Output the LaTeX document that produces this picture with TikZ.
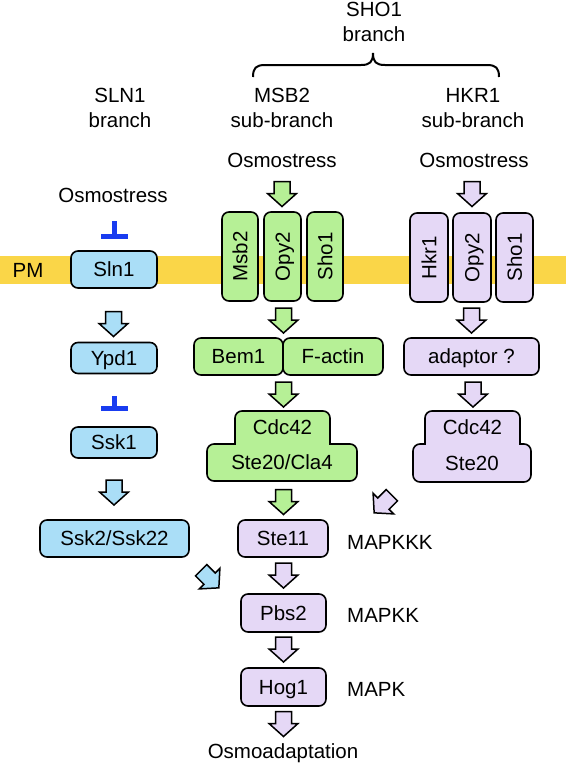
\documentclass[tikz,border=0pt]{standalone}
\usepackage{fontspec}
\setmainfont{Liberation Sans}
\usetikzlibrary{calc,arrows.meta}
\definecolor{bluefill}{RGB}{170,222,247}
\definecolor{greenfill}{RGB}{182,240,150}
\definecolor{purplefill}{RGB}{229,216,246}
\definecolor{pmband}{RGB}{250,214,72}
\definecolor{inhib}{RGB}{25,60,240}
\tikzset{
  lbl/.style={font=\fontsize{20.5}{25}\selectfont, inner sep=0pt, align=center},
  box/.style={draw=black, line width=1.6pt, rounded corners=7pt,
    font=\fontsize{20.5}{25}\selectfont, inner sep=0pt, text height=14.7pt, text depth=0pt},
  bbox/.style={box, fill=bluefill},
  gbox/.style={box, fill=greenfill},
  pbox/.style={box, fill=purplefill},
  fat/.style={draw=black, line width=1.5pt, line join=miter},
  inhibit/.style={draw=inhib, line width=5pt, -{Bar[width=27pt]}},
}
% point of a block arrow: centre (#1,#2), unit direction (#3,#4), across #5, along #6
\newcommand\ap[6]{({#1+(#6)*(#3)-(#5)*(#4)},{#2+(#6)*(#4)+(#5)*(#3)})}
\newcommand\fatarr[5]{\draw[fat, fill=#1]
  \ap{#2}{#3}{#4}{#5}{-8}{-12.5} -- \ap{#2}{#3}{#4}{#5}{8}{-12.5} --
  \ap{#2}{#3}{#4}{#5}{8}{-0.5} -- \ap{#2}{#3}{#4}{#5}{14.5}{-0.5} --
  \ap{#2}{#3}{#4}{#5}{0}{12.5} -- \ap{#2}{#3}{#4}{#5}{-14.5}{-0.5} --
  \ap{#2}{#3}{#4}{#5}{-8}{-0.5} -- cycle;}
\begin{document}
\begin{tikzpicture}[x=1pt,y=-1pt]
\useasboundingbox (0,0) rectangle (566,764);
% plasma membrane
\fill[pmband] (0,256) rectangle (566,284);
\node[lbl, anchor=base] (pm) at (28,277) {PM};
% headings
\node[lbl, anchor=base] (sho1lbl) at (374,41) {SHO1\\branch};
\draw[line width=2pt] (253,77) .. controls (253,68) and (256,65) .. (265,65) -- (361,65)
  .. controls (370,65) and (373,62) .. (373,53) .. controls (373,62) and (376,65) .. (385,65)
  -- (487,65) .. controls (496,65) and (499,68) .. (499,77);
\node[lbl, anchor=base] (sln1lbl) at (120,127) {SLN1\\branch};
\node[lbl, anchor=base] (msb2lbl) at (282,127) {MSB2\\sub-branch};
\node[lbl, anchor=base] (hkr1lbl) at (473,127) {HKR1\\sub-branch};
\node[lbl, anchor=base] (osmog) at (282,167) {Osmostress};
\node[lbl, anchor=base] (osmop) at (474,167) {Osmostress};
\node[lbl, anchor=base] (osmob) at (113,202) {Osmostress};
% SLN1 branch
\node[bbox, minimum width=86pt, minimum height=37pt] (sln1) at (114,269.5) {Sln1};
\node[bbox, minimum width=86pt, minimum height=31pt] (ypd1) at (114,358) {Ypd1};
\node[bbox, minimum width=86pt, minimum height=31pt] (ssk1) at (114,442.5) {Ssk1};
\node[bbox, minimum width=149pt, minimum height=37pt] (ssk2) at (114.5,538.5) {Ssk2/Ssk22};
\draw[inhibit] ($(sln1.north)+(0,-29)$) -- ($(sln1.north)+(0,-11)$);
\draw[inhibit] ($(ssk1.north)+(0,-30)$) -- ($(ssk1.north)+(0,-15)$);
\fatarr{bluefill}{113.5}{324}{0}{1}
\fatarr{bluefill}{114}{492.5}{0}{1}
\fatarr{bluefill}{210}{579}{0.7071}{0.7071}
% MSB2 sub-branch
\node[gbox, rotate=90, minimum width=89pt, minimum height=36pt] (msb2) at (240,256.5) {Msb2};
\node[gbox, rotate=90, minimum width=89pt, minimum height=37pt] (opy2g) at (282.5,256.5) {Opy2};
\node[gbox, rotate=90, minimum width=89pt, minimum height=36pt] (sho1g) at (325,256.5) {Sho1};
\node[gbox, minimum width=89pt, minimum height=37pt] (bem1) at (238.5,356.5) {Bem1};
\node[gbox, minimum width=100pt, minimum height=37pt] (factin) at (333,356.5) {F-actin};
\node[gbox, minimum width=95pt, minimum height=44pt, text depth=11pt] (cdc42g) at (282.5,433) {Cdc42};
\node[gbox, minimum width=150pt, minimum height=37pt] (ste20g) at (282,462.5) {Ste20/Cla4};
\fill[greenfill] ($(cdc42g.center)+(-46.5,9)$) rectangle ($(cdc42g.center)+(46.5,13.5)$);
\fatarr{greenfill}{282}{194}{0}{1}
\fatarr{greenfill}{283.5}{320.5}{0}{1}
\fatarr{greenfill}{283.5}{394.5}{0}{1}
\fatarr{greenfill}{283.5}{502}{0}{1}
% HKR1 sub-branch
\node[pbox, rotate=90, minimum width=89pt, minimum height=38pt] (hkr1) at (429,257.5) {Hkr1};
\node[pbox, rotate=90, minimum width=89pt, minimum height=38pt] (opy2p) at (472,257.5) {Opy2};
\node[pbox, rotate=90, minimum width=89pt, minimum height=37pt] (sho1p) at (514.5,257.5) {Sho1};
\node[pbox, minimum width=135pt, minimum height=37pt] (adaptor) at (471.5,356.5) {adaptor ?};
\node[pbox, minimum width=95pt, minimum height=44pt, text depth=11pt] (cdc42p) at (472.5,433) {Cdc42};
\node[pbox, minimum width=118pt, minimum height=38pt] (ste20p) at (472,463) {Ste20};
\fill[purplefill] ($(cdc42p.center)+(-46.5,9)$) rectangle ($(cdc42p.center)+(46.5,13.5)$);
\fatarr{purplefill}{472}{194}{0}{1}
\fatarr{purplefill}{471.5}{320.5}{0}{1}
\fatarr{purplefill}{473}{394.5}{0}{1}
\fatarr{purplefill}{383}{504}{-0.7071}{0.7071}
% MAPK cascade
\node[pbox, minimum width=90pt, minimum height=37pt] (ste11) at (283,538.5) {Ste11};
\node[pbox, minimum width=85pt, minimum height=38pt] (pbs2) at (283.5,613) {Pbs2};
\node[pbox, minimum width=85pt, minimum height=38pt] (hog1) at (283.5,687) {Hog1};
\fatarr{purplefill}{283.5}{575.5}{0}{1}
\fatarr{purplefill}{283.5}{649.5}{0}{1}
\fatarr{purplefill}{283.5}{724}{0}{1}
\node[lbl, anchor=base west] (mapkkk) at (347,549) {MAPKKK};
\node[lbl, anchor=base west] (mapkk) at (347,622) {MAPKK};
\node[lbl, anchor=base west] (mapk) at (347,696) {MAPK};
\node[lbl, anchor=base] (osmoad) at (283,758) {Osmoadaptation};
\end{tikzpicture}
\end{document}
